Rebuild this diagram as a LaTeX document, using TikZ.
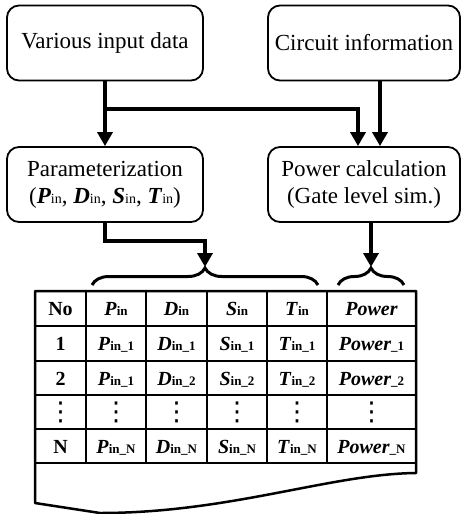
\documentclass[tikz,border=0pt]{standalone}
\usepackage{fontspec}
\setmainfont{Liberation Serif}
\newfontfamily\symfont{DejaVu Sans}
\usetikzlibrary{arrows.meta, decorations.pathreplacing}

\newcommand{\bi}[1]{\textbf{\textit{#1}}}
\newcommand{\lowin}[1]{{\fontsize{14}{14}\selectfont #1}}
\newcommand{\subtx}[1]{{\fontsize{13}{13}\selectfont\bfseries #1}}
\newcommand{\vdt}{{\symfont\fontsize{26}{26}\selectfont ⋮}}

\tikzset{
  box/.style={draw, line width=1.8pt, rounded corners=12pt, minimum width=196pt,
    minimum height=75pt, align=center, font=\fontsize{23}{27}\selectfont},
  flow/.style={line width=3.5pt},
  cell/.style={inner sep=0pt, text height=14pt, text depth=0pt,
    font=\fontsize{20}{20}\selectfont\bfseries},
  dotcell/.style={inner sep=0pt},
}

\begin{document}
\begin{tikzpicture}[>={Triangle[length=14pt,width=15pt]}, x=1pt, y=1pt]
		\useasboundingbox (0,0) rectangle (462,-514);

		\node[box] (input) at (105,-43) {Various input data};
		\node[box, minimum width=192pt] (circuit) at (364,-43) {Circuit information};
		\node[box] (param) at (105,-184.5) {Parameterization\\(\bi{P}\lowin{in}, \bi{D}\lowin{in}, \bi{S}\lowin{in}, \bi{T}\lowin{in})};
		\node[box, minimum width=192pt] (power) at (364,-184.5) {Power calculation\\(Gate level sim.)};

		\coordinate (split) at (105,-109);
		\coordinate (ltip) at (205,-267);
		\coordinate (rtip) at (371,-267);

		\draw[flow,->] (input) -- (param);
		\draw[flow,->] (split) -| ([xshift=-6pt]power.north);
		\draw[flow,->] ([xshift=16pt]circuit.south) -- ([xshift=16pt]power.north);
		\draw[flow,->] (param.south) -- ++(0,-18) -| (ltip);
		\draw[flow,->] (power.south -| rtip) -- (rtip);

		% braces over the table
		\draw[line width=3pt, decorate, decoration={brace, amplitude=17pt}] (92,-285) -- (318,-285);
		\draw[line width=3pt, decorate, decoration={brace, amplitude=17pt}] (338,-285) -- (404,-285);

		% table grid
		\foreach \y in {326,361,395,429,463}
			\draw[line width=1.5pt] (35,-\y) -- (416,-\y);
		\foreach \x in {86,146,207,267,327}
			\draw[line width=1.5pt] (\x,-291) -- (\x,-463);
		\draw[line width=2.5pt, line join=round] (35,-291) -- (416,-291) -- (416,-473)
			.. controls (330,-474) and (230,-513) .. (100,-513) -- (35,-503) -- cycle;

		% table entries
		\node[cell] (hNo) at (60.5,-308.5) {No};
		\node[cell] (oneNo) at (60.5,-343.5) {1};
		\node[cell] (twoNo) at (60.5,-378) {2};
		\node[cell] (nNo) at (60.5,-446) {N};
		\node[cell] (hPow) at (371.5,-308.5) {\bi{Power}};
		\node[cell] (onePow) at (371.5,-343.5) {\bi{Power}\subtx{\_1}};
		\node[cell] (twoPow) at (371.5,-378) {\bi{Power}\subtx{\_2}};
		\node[cell] (nPow) at (371.5,-446) {\bi{Power}\subtx{\_N}};
		\node[cell] (twoP) at (116,-378) {\bi{P}\subtx{in\_1}};
		\foreach \c/\x in {P/116, D/176.5, S/237, T/297} {
			\node[cell] (h\c) at (\x,-308.5) {\bi{\c}\subtx{in}};
			\node[cell] (one\c) at (\x,-343.5) {\bi{\c}\subtx{in\_1}};
			\node[cell] (n\c) at (\x,-446) {\bi{\c}\subtx{in\_N}};
		}
		\foreach \c/\x in {D/176.5, S/237, T/297}
			\node[cell] (two\c) at (\x,-378) {\bi{\c}\subtx{in\_2}};
		\foreach \c/\x in {No/60.5, P/116, D/176.5, S/237, T/297, Pow/371.5}
			\node[dotcell] (v\c) at (\x,-412) {\vdt};
	\end{tikzpicture}
\end{document}
